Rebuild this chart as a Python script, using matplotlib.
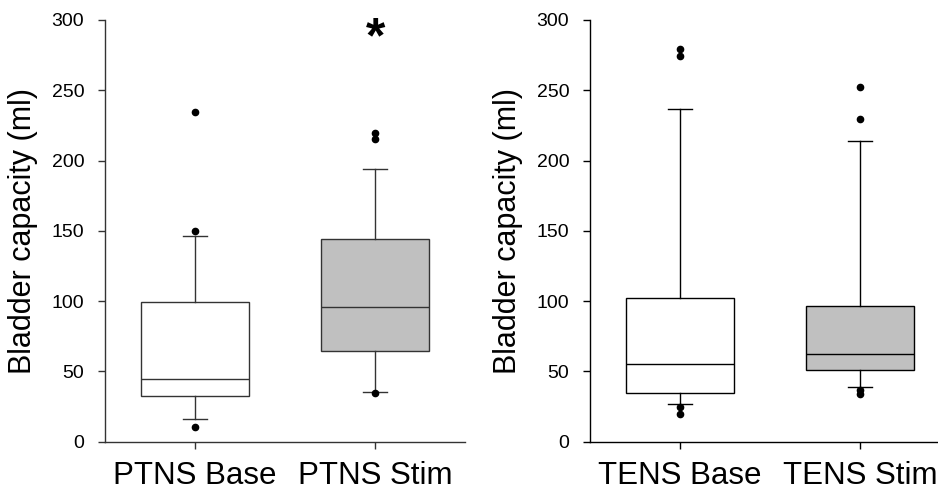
import numpy as np
import matplotlib
matplotlib.use("Agg")
import matplotlib.pyplot as plt

plt.rcParams['font.family'] = ['Liberation Sans', 'DejaVu Sans']

# values (ml)
ptns_labels = ['PTNS Base', 'PTNS Stim']
ptns_q1 = [32.3, 64.7]
ptns_med = [44.3, 96.0]
ptns_q3 = [99.6, 144.2]
ptns_whislo = [16.4, 35.6]
ptns_whishi = [146.0, 194.0]
ptns_fliers = [[10.7, 149.9, 234.8], [34.9, 215.6, 219.8]]

tens_labels = ['TENS Base', 'TENS Stim']
tens_q1 = [34.6, 50.8]
tens_med = [55.0, 62.1]
tens_q3 = [102.0, 96.8]
tens_whislo = [27.0, 39.1]
tens_whishi = [236.4, 213.9]
tens_fliers = [[19.7, 24.7, 274.4, 279.0], [33.7, 36.8, 229.6, 252.6]]

box_colors = ['white', '#c0c0c0']
star_value = 286


def make_stats(labels, q1, med, q3, lo, hi, fliers):
    stats = []
    for i in range(len(labels)):
        stats.append(dict(label=labels[i], q1=q1[i], med=med[i], q3=q3[i],
                          whislo=lo[i], whishi=hi[i], fliers=fliers[i]))
    return stats


def draw_panel(ax, stats, line_color):
    lp = dict(color=line_color, linewidth=1.0)
    bp = ax.bxp(stats, positions=[1, 2], widths=0.6, patch_artist=True,
                showfliers=True,
                boxprops=dict(edgecolor=line_color, linewidth=1.0),
                medianprops=lp, whiskerprops=lp,
                capprops=lp, capwidths=0.13,
                flierprops=dict(marker='o', markerfacecolor='black',
                                markeredgecolor='black', markersize=4.5))
    for patch, c in zip(bp['boxes'], box_colors):
        patch.set_facecolor(c)
    ax.set_xlim(0.5, 2.5)
    ax.set_ylim(0, 300)
    ax.set_yticks([0, 50, 100, 150, 200, 250, 300])
    ax.spines['top'].set_visible(False)
    ax.spines['right'].set_visible(False)
    for s in ['left', 'bottom']:
        ax.spines[s].set_color(line_color)
        ax.spines[s].set_linewidth(1.0)
    ax.tick_params(axis='y', labelsize=14, length=5, width=1.0, color=line_color, pad=10)
    ax.tick_params(axis='x', labelsize=22.5, length=5, width=1.0, color=line_color, pad=9)
    ax.set_ylabel('Bladder capacity (ml)', fontsize=22, labelpad=10)


fig = plt.figure(figsize=(9.38, 4.91), dpi=100)
ax1 = fig.add_axes([0.112, 0.1004, 0.384, 0.859])
ax2 = fig.add_axes([0.629, 0.1004, 0.384, 0.859])

draw_panel(ax1, make_stats(ptns_labels, ptns_q1, ptns_med, ptns_q3,
                           ptns_whislo, ptns_whishi, ptns_fliers), '#333333')
draw_panel(ax2, make_stats(tens_labels, tens_q1, tens_med, tens_q3,
                           tens_whislo, tens_whishi, tens_fliers), 'black')

ax1.text(2, star_value, '*', ha='center', va='center', fontsize=36,
         fontweight='bold', clip_on=False)

fig.savefig('out.png', dpi=100)
